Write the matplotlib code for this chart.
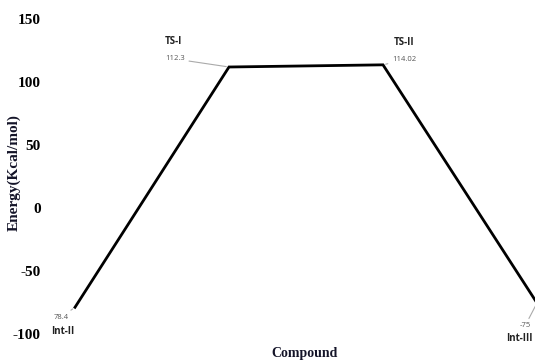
import matplotlib
matplotlib.use('Agg')
import matplotlib.pyplot as plt

# energy profile of the reaction path
compounds = ['Int-II', 'TS-I', 'TS-II', 'Int-III']
energies = [-78.4, 112.3, 114.02, -75]
value_labels = ['78.4', '112.3', '114.02', '-75']
yticks = [150, 100, 50, 0, -50, -100]

# label offsets in pixels: (value label), (name label)
value_offsets = [(-14, -10), (-54, 8), (21, 5), (-12, -23)]
name_offsets = [(-12, -24), (-56, 25), (21, 22), (-18, -36)]

fig = plt.figure(figsize=(5.35, 3.62), dpi=100)
ax = fig.add_axes([45 / 535, 0, 490 / 535, 1])

x = list(range(len(compounds)))
ax.plot(x, energies, color='black', lw=2, solid_joinstyle='miter', clip_on=True)

for i in range(len(compounds)):
    ax.annotate(value_labels[i], xy=(x[i], energies[i]), xytext=value_offsets[i],
                textcoords='offset pixels', ha='center', va='center',
                fontsize=5.5, color='#555555', family='Open Sans',
                arrowprops=dict(arrowstyle='-', color='#aaaaaa', lw=0.8,
                                shrinkA=1, shrinkB=2),
                annotation_clip=False)
    ax.annotate(compounds[i], xy=(x[i], energies[i]), xytext=name_offsets[i],
                textcoords='offset pixels', ha='center', va='center',
                fontsize=7, fontweight='bold', color='#222222', family='Open Sans',
                annotation_clip=False)

ax.set_xlim(-30 / 154, 490 / 154 - 30 / 154)
ax.set_ylim(112.3 - 295 / 1.26, 112.3 + 67 / 1.26)

ax.set_xticks([])
ax.set_yticks(yticks)
ax.set_yticklabels([str(t) for t in yticks], family='Liberation Serif',
                   fontweight='bold', fontsize=11)
ax.tick_params(axis='y', length=0, pad=3)
for s in ax.spines.values():
    s.set_visible(False)

fig.text(14 / 535, 1 - 173 / 362, 'Energy(Kcal/mol)', rotation=90,
         ha='center', va='center', family='Liberation Serif',
         fontweight='bold', fontsize=11, color='#141428')
fig.text(305 / 535, 1 - 353 / 362, 'Compound', ha='center', va='center',
         family='Liberation Serif', fontweight='bold', fontsize=10,
         color='#141428')

fig.savefig('out.png', dpi=100)
